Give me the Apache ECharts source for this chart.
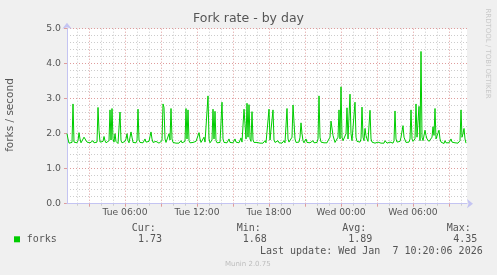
<!DOCTYPE html>
<html>
<head>
<meta charset="utf-8">
<script src="https://cdn.jsdelivr.net/npm/echarts@6/dist/echarts.min.js"></script>
<style>
html,body{margin:0;padding:0;background:#f0f0f0;}
#chart{width:497px;height:275px;}
</style>
</head>
<body>
<div id="chart"></div>
<script>
// ---- data ----
const title = 'Fork rate - by day';
const yAxisTitle = 'forks / second';
const seriesName = 'forks';
// 5-minute samples starting Tue 01:10 (hours counted from Tue 00:00)
const startHour = 1 + 10 / 60;
const stepHours = 5 / 60;
const forks = [
2.00,1.85,1.73,1.72,1.73,1.75,2.85,1.76,1.73,1.72,1.74,1.80,2.03,1.85,1.74,1.73,1.78,1.90,1.85,1.88,
1.76,1.73,1.72,1.74,1.73,1.75,1.80,1.74,1.72,1.73,1.76,2.75,2.10,1.76,1.73,1.72,1.78,1.92,1.80,1.74,
1.73,1.75,1.80,2.68,1.82,2.72,1.85,1.76,2.00,1.78,1.73,1.72,1.76,2.62,1.80,1.74,1.73,1.72,1.78,1.85,
2.00,1.80,1.74,1.78,2.05,1.90,1.75,1.73,1.72,1.74,1.80,2.70,1.82,1.75,1.73,1.72,1.74,1.78,1.85,1.76,
1.73,1.72,1.78,1.92,2.05,1.85,1.75,1.73,1.74,1.78,1.83,1.75,1.73,1.72,1.73,1.80,2.85,2.75,1.85,1.75,
1.73,1.78,2.00,1.82,2.72,1.85,1.75,1.80,1.74,1.73,1.72,1.75,1.73,1.76,1.80,1.74,1.73,1.72,1.78,2.72,
1.85,2.68,1.80,1.74,1.73,1.72,1.75,1.73,1.74,1.78,1.76,1.80,2.03,1.85,1.75,1.73,1.78,1.90,1.76,1.73,
1.80,3.08,1.85,1.74,1.76,1.82,2.70,1.85,2.64,1.80,1.74,1.73,1.72,1.75,1.80,2.90,1.85,1.75,1.73,1.72,
1.74,1.78,1.85,1.75,1.73,1.72,1.74,1.78,1.85,1.76,1.73,1.72,1.74,1.78,1.88,1.76,1.80,2.70,2.68,1.85,
2.87,1.90,2.83,1.85,1.78,2.63,1.82,1.75,1.73,1.72,1.75,1.80,1.74,1.73,1.72,1.74,1.73,1.76,1.80,1.74,
1.73,1.78,2.70,1.82,1.80,1.78,2.68,1.82,1.75,1.73,1.74,1.80,1.74,1.73,1.72,1.73,1.75,1.80,1.74,1.78,
2.72,1.85,1.76,1.74,1.80,1.90,2.82,2.78,1.85,1.75,1.73,1.80,1.76,1.90,2.31,2.00,1.80,1.74,1.73,1.85,
1.75,1.73,1.72,1.74,1.73,1.76,1.80,1.74,1.73,1.72,1.75,1.85,3.08,1.90,1.76,1.74,1.78,1.74,1.73,1.72,
1.74,1.80,1.76,1.90,2.36,2.34,1.95,1.85,1.75,1.73,1.76,1.90,2.68,1.85,3.34,1.90,1.80,1.76,1.85,2.00,
2.74,1.85,1.90,3.13,2.00,1.80,1.76,1.85,2.90,1.90,1.78,1.74,1.73,1.76,1.85,2.76,1.90,1.80,2.15,1.95,
1.85,1.78,1.80,2.67,1.85,1.76,1.74,1.75,1.73,1.72,1.74,1.76,1.80,1.74,1.73,1.72,1.74,1.73,1.80,1.75,
1.73,1.72,1.74,1.76,1.80,1.74,1.73,1.80,2.65,1.85,1.76,1.74,1.73,1.78,1.90,1.95,2.23,1.90,1.85,1.75,
1.73,1.72,1.76,1.85,2.68,1.85,1.78,1.75,1.85,2.85,1.90,1.85,2.78,1.80,4.35,1.90,1.80,1.85,2.10,1.95,
1.85,1.80,1.78,1.76,1.80,1.90,2.20,1.95,2.72,1.85,1.80,1.90,2.10,1.85,1.76,1.74,1.73,1.72,1.80,1.74,
1.73,1.72,1.74,1.78,1.85,1.76,1.73,1.72,1.74,1.73,1.75,1.73,1.72,1.80,2.68,1.90,2.00,2.15,1.85,1.73
];
const xMin = startHour;
const xMax = 34.5;
const majorHours = [3, 6, 9, 12, 15, 18, 21, 24, 27, 30, 33];
const minorHours = [2, 4, 5, 7, 8, 10, 11, 13, 14, 16, 17, 19, 20, 22, 23, 25, 26, 28, 29, 31, 32, 34];
const labelHours = [6, 12, 18, 24, 30];
const labelNames = ['Tue 06:00', 'Tue 12:00', 'Tue 18:00', 'Wed 00:00', 'Wed 06:00'];
const legendHeads = ['Cur:', 'Min:', 'Avg:', 'Max:'];
const legendValues = ['1.73', '1.68', '1.89', '4.35'];
const lastUpdate = 'Last update: Wed Jan  7 10:20:06 2026';
const footer = 'Munin 2.0.75';
const sideText = 'RRDTOOL / TOBI OETIKER';

// ---- chart ----
const seriesData = forks.map((v, i) => [startHour + i * stepHours, v]);
const chart = echarts.init(document.getElementById('chart'), null, {renderer: 'canvas'});
const sans = 'DejaVu Sans';
const mono = 'DejaVu Sans Mono';
const txtColor = '#555555';
const majorColor = '#df9c9c';
const minorColor = '#cccccc';
const axisColor = '#c4c4f2';

const headX = [131.7, 236.7, 342.3, 446.7];
const valX = [138, 242.7, 348.3, 453.3];
const graphics = [
  {type: 'text', x: 248.5, y: 19, style: {text: title, font: '12.5px "' + sans + '"', fill: txtColor, textAlign: 'center', textVerticalAlign: 'middle'}},
  {type: 'text', x: 10.5, y: 115, rotation: Math.PI / 2, style: {text: yAxisTitle, font: '10.5px "' + sans + '"', fill: txtColor, textAlign: 'center', textVerticalAlign: 'middle'}},
  {type: 'text', x: 487.7, y: 53.5, rotation: -Math.PI / 2, style: {text: sideText, font: '7px "' + sans + '"', fill: '#c8c8c8', textAlign: 'center', textVerticalAlign: 'middle'}},
  {type: 'rect', shape: {x: 14, y: 236.3, width: 6, height: 6}, style: {fill: '#00cc00'}},
  {type: 'text', x: 26.7, y: 239.3, style: {text: seriesName, font: '10px "' + mono + '"', fill: txtColor, textVerticalAlign: 'middle'}},
  {type: 'text', x: 482.7, y: 251, style: {text: lastUpdate, font: '10px "' + mono + '"', fill: txtColor, textAlign: 'right', textVerticalAlign: 'middle'}},
  {type: 'text', x: 247.8, y: 264.3, style: {text: footer, font: '7px "' + sans + '"', fill: '#bdbdbd', textAlign: 'center', textVerticalAlign: 'middle'}}
];
legendHeads.forEach((h, i) => {
  graphics.push({type: 'text', x: headX[i], y: 228.3, style: {text: h, font: '10px "' + mono + '"', fill: txtColor, textVerticalAlign: 'middle'}});
  graphics.push({type: 'text', x: valX[i], y: 239.3, style: {text: legendValues[i], font: '10px "' + mono + '"', fill: txtColor, textVerticalAlign: 'middle'}});
});

const option = {
  backgroundColor: '#f0f0f0',
  animation: false,
  grid: {left: 67, top: 28.7, width: 400, height: 175, show: true, backgroundColor: '#ffffff', borderWidth: 0, containLabel: false},
  xAxis: [
    {
      type: 'value', min: xMin, max: xMax, gridIndex: 0, position: 'bottom', z: 1,
      axisLine: {show: false},
      axisTick: {show: true, customValues: minorHours, length: 2, lineStyle: {color: minorColor, width: 1}},
      axisLabel: {show: false},
      splitLine: {show: true, lineStyle: {color: minorColor, type: [1, 2], width: 1}}
    },
    {
      type: 'value', min: xMin, max: xMax, gridIndex: 0, position: 'bottom', z: 2,
      axisLine: {show: true, onZero: false, lineStyle: {color: axisColor, width: 1}, symbol: ['none', 'arrow'], symbolSize: [7, 6], symbolOffset: [0, 6]},
      axisTick: {show: true, customValues: majorHours, length: 3, lineStyle: {color: majorColor, width: 1}},
      axisLabel: {
        show: true, customValues: labelHours, margin: 4,
        fontFamily: sans, fontSize: 9.2, color: txtColor,
        formatter: v => { const k = labelHours.indexOf(Math.round(v)); return k >= 0 ? labelNames[k] : ''; }
      },
      splitLine: {show: true, lineStyle: {color: majorColor, type: [1, 2], width: 1}}
    }
  ],
  yAxis: {
    type: 'value', min: 0, max: 5, interval: 1,
    axisLine: {show: true, onZero: false, lineStyle: {color: axisColor, width: 1}, symbol: ['none', 'arrow'], symbolSize: [7, 6], symbolOffset: [0, 6]},
    axisTick: {show: true, length: 3, lineStyle: {color: majorColor}},
    axisLabel: {margin: 6, fontFamily: sans, fontSize: 9.3, color: txtColor, formatter: v => v.toFixed(1)},
    splitLine: {show: true, lineStyle: {color: majorColor, type: [1, 2], width: 1}},
    minorTick: {show: false, splitNumber: 5},
    minorSplitLine: {show: true, lineStyle: {color: minorColor, type: [1, 2], width: 1}}
  },
  series: [{
    name: seriesName, type: 'line', xAxisIndex: 1, data: seriesData,
    showSymbol: false, symbol: 'none', z: 5,
    lineStyle: {color: '#00cc00', width: 1}
  }],
  graphic: graphics
};
chart.setOption(option);
</script>
</body>
</html>
